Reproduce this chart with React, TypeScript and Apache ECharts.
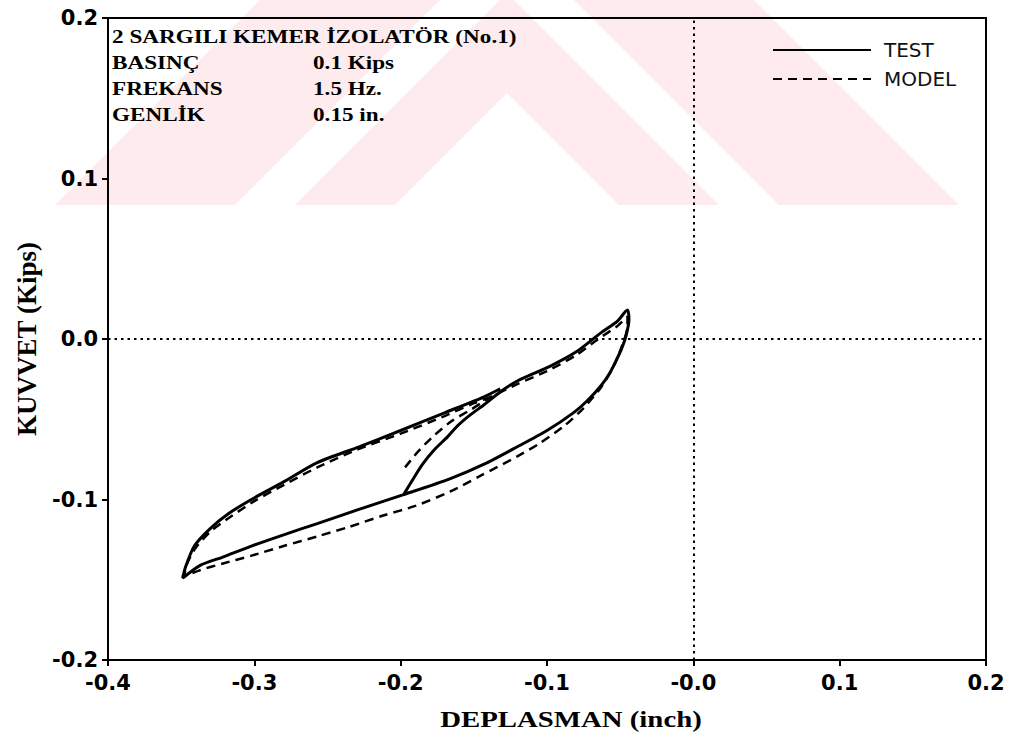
import React, { useEffect, useRef } from "react";
import * as echarts from "echarts";

// Axis tick labels
const xTickLabels = ["-0.4", "-0.3", "-0.2", "-0.1", "-0.0", "0.1", "0.2"];
const yTickLabels = ["-0.2", "-0.1", "0.0", "0.1", "0.2"];

// Header block
const headerTitle = "2 SARGILI KEMER İZOLATÖR (No.1)";
const headerKeys = ["BASINÇ", "FREKANS", "GENLİK"];
const headerValues = ["0.1 Kips", "1.5 Hz.", "0.15 in."];

const xAxisTitle = "DEPLASMAN (inch)";
const yAxisTitle = "KUVVET (Kips)";

// TEST: initial loading curve, then the hysteresis loop
const testInitial: number[][] = [
  [-0.198, -0.097], [-0.192, -0.088], [-0.185, -0.078], [-0.177, -0.069],
  [-0.168, -0.061], [-0.161, -0.054], [-0.152, -0.047], [-0.143, -0.041],
  [-0.132, -0.033],
];
const testUpperRight: number[][] = [
  [-0.12, -0.026], [-0.098, -0.017], [-0.08, -0.008], [-0.063, 0.004],
  [-0.052, 0.011], [-0.045, 0.018],
];
const testLower: number[][] = [
  [-0.044, 0.012], [-0.046, 0.002], [-0.049, -0.006], [-0.052, -0.012],
  [-0.057, -0.021], [-0.063, -0.029], [-0.072, -0.038], [-0.082, -0.046],
  [-0.1, -0.057], [-0.12, -0.067], [-0.143, -0.078], [-0.166, -0.087],
  [-0.198, -0.097], [-0.228, -0.106], [-0.257, -0.115], [-0.28, -0.122],
  [-0.302, -0.129], [-0.322, -0.136], [-0.337, -0.141], [-0.349, -0.149],
];
const testUpperLeft: number[][] = [
  [-0.347, -0.142], [-0.341, -0.129], [-0.33, -0.118], [-0.318, -0.109],
  [-0.302, -0.1], [-0.28, -0.089], [-0.257, -0.077], [-0.228, -0.067],
  [-0.2, -0.057], [-0.17, -0.046], [-0.143, -0.036], [-0.132, -0.031],
];

// MODEL
const modelInitial: number[][] = [
  [-0.197, -0.08], [-0.188, -0.07], [-0.177, -0.06], [-0.165, -0.051],
  [-0.152, -0.044], [-0.138, -0.036],
];
const modelUpperRight: number[][] = [
  [-0.12, -0.028], [-0.1, -0.02], [-0.08, -0.01], [-0.065, 0.0],
  [-0.052, 0.008], [-0.045, 0.014],
];
const modelLower: number[][] = [
  [-0.045, 0.008], [-0.049, -0.005], [-0.055, -0.018], [-0.063, -0.03],
  [-0.075, -0.043], [-0.088, -0.054], [-0.105, -0.065], [-0.12, -0.073],
  [-0.145, -0.085], [-0.166, -0.095], [-0.19, -0.104], [-0.212, -0.11],
  [-0.235, -0.117], [-0.257, -0.123], [-0.28, -0.129], [-0.302, -0.135],
  [-0.322, -0.14], [-0.337, -0.144], [-0.348, -0.148],
];
const modelUpperLeft: number[][] = [
  [-0.346, -0.14], [-0.34, -0.13], [-0.33, -0.12], [-0.315, -0.11],
  [-0.3, -0.101], [-0.28, -0.091], [-0.257, -0.08], [-0.23, -0.069],
  [-0.2, -0.059], [-0.17, -0.048], [-0.15, -0.04], [-0.138, -0.036],
];

const W = 1014;
const H = 740;
const PINK = "#fdebee";

function chevronBands() {
  // faint background chevron bands
  const bands = [
    [[260, 0], [440, 0], [235, 205], [55, 205]],
    [[754, 0], [574, 0], [779, 205], [959, 205]],
    [[500, 0], [514, 0], [719, 205], [619, 205], [507, 93], [395, 205], [295, 205]],
  ];
  return bands.map((pts) => ({
    type: "polygon",
    z: -100,
    silent: true,
    shape: { points: pts },
    style: { fill: PINK },
  }));
}

export default function App() {
  const ref = useRef<HTMLDivElement>(null);

  useEffect(() => {
    document.body.style.margin = "0";
    if (!ref.current) return;
    const chart = echarts.init(ref.current, null, { renderer: "svg" });

    const serif = '"Liberation Serif", "Times New Roman", serif';
    const sansWide = '"DejaVu Sans", Verdana, sans-serif';

    const headerText = (text: string, x: number, y: number) => ({
      type: "text",
      x,
      y,
      z: 10,
      scaleX: 1.22,
      style: { text, font: `bold 19px ${serif}`, fill: "#000", verticalAlign: "middle" },
    });

    const headerGraphics: any[] = [headerText(headerTitle, 112, 37)];
    headerKeys.forEach((k, i) => {
      const y = 63 + i * 26;
      headerGraphics.push(headerText(k, 112, y));
      headerGraphics.push(headerText(headerValues[i], 313, y));
    });

    // x axis title (set in a wide bold serif)
    headerGraphics.push({
      type: "text",
      x: 571,
      y: 719,
      z: 10,
      scaleX: 1.2,
      originX: 0,
      style: {
        text: xAxisTitle,
        font: `bold 24px ${serif}`,
        fill: "#000",
        align: "center",
        verticalAlign: "middle",
      },
    });

    const testData = [...testInitial, ...testUpperRight, ...testLower, ...testUpperLeft];
    const modelData = [...modelInitial, ...modelUpperRight, ...modelLower, ...modelUpperLeft];

    chart.setOption({
      animation: false,
      backgroundColor: "#fff",
      grid: {
        left: 108,
        right: 28,
        top: 18,
        bottom: 80,
        show: true,
        borderColor: "#000",
        borderWidth: 2,
        backgroundColor: "transparent",
      },
      legend: {
        left: 767,
        top: 35,
        orient: "vertical",
        itemWidth: 98,
        itemHeight: 16,
        itemGap: 9,
        itemStyle: { opacity: 0 },
        textStyle: { fontFamily: sansWide, fontSize: 20, color: "#111", padding: [0, 0, 0, 8] },
        data: ["TEST", "MODEL"],
      },
      xAxis: {
        type: "value",
        min: -0.4,
        max: 0.2,
        interval: 0.1,
        axisLine: { show: true, onZero: false, lineStyle: { color: "#000", width: 2 } },
        axisTick: { show: true, length: 6, lineStyle: { color: "#000", width: 2 } },
        axisLabel: {
          margin: 12,
          fontFamily: sansWide,
          fontWeight: "bold",
          fontSize: 21,
          color: "#000",
          formatter: (v: number) => xTickLabels[Math.round((v + 0.4) * 10)] ?? "",
        },
        splitLine: { show: false },
      },
      yAxis: {
        type: "value",
        min: -0.2,
        max: 0.2,
        interval: 0.1,
        name: yAxisTitle,
        nameLocation: "middle",
        nameGap: 68,
        nameTextStyle: { fontFamily: serif, fontWeight: "bold", fontSize: 27, color: "#000" },
        axisLine: { show: true, onZero: false, lineStyle: { color: "#000", width: 2 } },
        axisTick: { show: true, length: 6, lineStyle: { color: "#000", width: 2 } },
        axisLabel: {
          margin: 10,
          fontFamily: sansWide,
          fontWeight: "bold",
          fontSize: 21,
          color: "#000",
          formatter: (v: number) => yTickLabels[Math.round((v + 0.2) * 10)] ?? "",
        },
        splitLine: { show: false },
      },
      graphic: [...chevronBands(), ...headerGraphics],
      series: [
        {
          name: "TEST",
          type: "line",
          data: testData,
          showSymbol: false,
          symbol: "none",
          smooth: 0.25,
          lineStyle: { color: "#000", width: 3 },
          itemStyle: { color: "#000" },
          markLine: {
            silent: true,
            symbol: "none",
            label: { show: false },
            lineStyle: { color: "#000", type: [2.5, 4], width: 2 },
            data: [{ xAxis: 0 }, { yAxis: 0 }],
          },
          z: 3,
        },
        {
          name: "MODEL",
          type: "line",
          data: modelData,
          showSymbol: false,
          symbol: "none",
          smooth: 0.25,
          lineStyle: { color: "#000", width: 2.5, type: [9, 6] },
          itemStyle: { color: "#000" },
          z: 2,
        },
      ],
    });

    return () => chart.dispose();
  }, []);

  return <div ref={ref} style={{ width: W, height: H }} />;
}
